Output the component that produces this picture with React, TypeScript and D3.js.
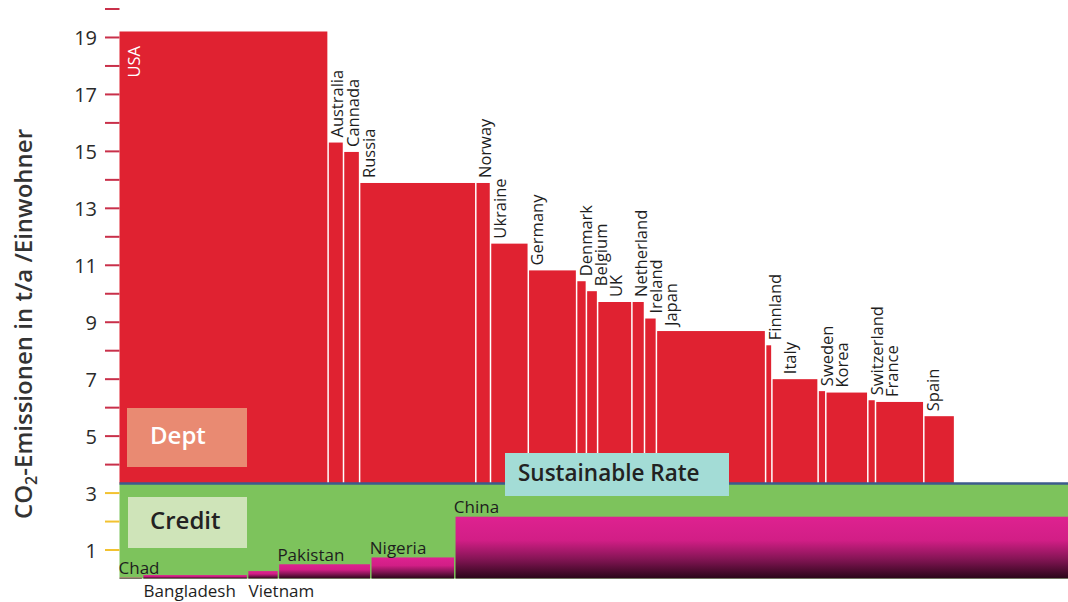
import React, { useEffect, useRef } from 'react';
import * as d3 from 'd3';

// countries above the sustainable rate (bar width = population, height = t CO2 per head)
const DEBT_COUNTRIES = ['USA', 'Australia', 'Cannada', 'Russia', 'Norway', 'Ukraine', 'Germany', 'Denmark', 'Belgium', 'UK', 'Netherland', 'Ireland', 'Japan', 'Finnland', 'Italy', 'Sweden', 'Korea', 'Switzerland', 'France', 'Spain'];
const DEBT_POPULATION = [298, 22, 23, 166, 21, 54, 69, 14, 16, 49, 18, 17, 156, 9, 66, 11, 60, 11, 69, 44];
const DEBT_EMISSIONS = [19.21, 15.31, 14.98, 13.89, 13.89, 11.76, 10.82, 10.44, 10.09, 9.71, 9.71, 9.13, 8.69, 8.19, 7.0, 6.58, 6.53, 6.26, 6.2, 5.7];

// countries below it
const CREDIT_COUNTRIES = ['Chad', 'Bangladesh', 'Vietnam', 'Pakistan', 'Nigeria', 'China'];
const CREDIT_POPULATION = [33, 150, 44, 132, 120, 1300];
const CREDIT_EMISSIONS = [0.03, 0.12, 0.26, 0.5, 0.74, 2.17];
const LABELS_BELOW = ['Bangladesh', 'Vietnam'];

const SUSTAINABLE_RATE = 3.34;
const Y_TICKS = d3.range(1, 21);
const Y_TICK_LABELS = [1, 3, 5, 7, 9, 11, 13, 15, 17, 19];

const App: React.FC = () => {
  const svgRef = useRef<SVGSVGElement>(null);

  useEffect(() => {
    if (!svgRef.current) return;
    document.body.style.margin = '0';

    const font = '"Open Sans", sans-serif';
    const svg = d3.select(svgRef.current).html('');

    const x = d3.scaleLinear().domain([0, 1400]).range([119.5, 1099.5]);
    const y = d3.scaleLinear().domain([0, 20]).range([578.5, 9]);

    const defs = svg.append('defs');
    const grad = defs.append('linearGradient').attr('id', 'creditGrad')
      .attr('x1', 0).attr('y1', 0).attr('x2', 0).attr('y2', 1);
    grad.append('stop').attr('offset', 0).attr('stop-color', '#de2290');
    grad.append('stop').attr('offset', 0.38).attr('stop-color', '#d21e86');
    grad.append('stop').attr('offset', 0.68).attr('stop-color', '#861556');
    grad.append('stop').attr('offset', 1).attr('stop-color', '#2a0518');

    let acc = 0;
    const debt = DEBT_COUNTRIES.map((name, i) => {
      const d = { name, value: DEBT_EMISSIONS[i], x0: acc, x1: acc + DEBT_POPULATION[i] };
      acc = d.x1;
      return d;
    });
    acc = 0;
    const credit = CREDIT_COUNTRIES.map((name, i) => {
      const d = { name, value: CREDIT_EMISSIONS[i], x0: acc, x1: acc + CREDIT_POPULATION[i] };
      acc = d.x1;
      return d;
    });

    const lineY = y(SUSTAINABLE_RATE);
    const right = x(credit[credit.length - 1].x1);

    // green credit band
    svg.append('rect')
      .attr('x', x(0)).attr('y', lineY)
      .attr('width', right - x(0)).attr('height', y(0) - lineY)
      .attr('fill', '#7dc35c');

    // debt bars
    svg.selectAll('.debt').data(debt).enter().append('rect')
      .attr('class', 'debt')
      .attr('x', (d, i) => x(d.x0) + (i ? 0.75 : 0))
      .attr('width', (d, i) => x(d.x1) - x(d.x0) - (i ? 1.5 : 0.75))
      .attr('y', d => y(d.value))
      .attr('height', d => lineY - y(d.value))
      .attr('fill', '#e02231');

    // credit bars
    svg.selectAll('.credit').data(credit).enter().append('rect')
      .attr('class', 'credit')
      .attr('x', (d, i) => x(d.x0) + (i ? 0.75 : 0))
      .attr('width', (d, i) => x(d.x1) - x(d.x0) - (i ? 1.5 : 0.75))
      .attr('y', d => y(d.value))
      .attr('height', d => y(0) - y(d.value))
      .attr('fill', 'url(#creditGrad)');

    // sustainable rate line
    svg.append('line')
      .attr('x1', x(0)).attr('x2', right)
      .attr('y1', lineY).attr('y2', lineY)
      .attr('stroke', '#3d5b8c').attr('stroke-width', 2.5);

    // y ticks
    Y_TICKS.forEach(v => {
      svg.append('line')
        .attr('x1', 105).attr('x2', x(0))
        .attr('y1', y(v)).attr('y2', y(v))
        .attr('stroke', v < SUSTAINABLE_RATE ? '#f2c230' : '#c9304a')
        .attr('stroke-width', 2);
    });
    Y_TICK_LABELS.forEach(v => {
      svg.append('text')
        .attr('x', 97).attr('y', y(v))
        .attr('dominant-baseline', 'central')
        .attr('text-anchor', 'end')
        .attr('font-family', font).attr('font-size', 20)
        .attr('fill', '#2a2a2a')
        .text(v);
    });

    // axis title
    const title = svg.append('text')
      .attr('transform', 'translate(32,324) rotate(-90)')
      .attr('text-anchor', 'middle')
      .attr('font-family', font).attr('font-size', 24).attr('font-weight', 600)
      .attr('fill', '#333');
    title.append('tspan').text('CO');
    title.append('tspan').attr('font-size', 16).attr('dy', 5).text('2');
    title.append('tspan').attr('dy', -5).text('-Emissionen in t/a /Einwohner');

    // debt labels, pushed right so they do not collide
    let prev = -Infinity;
    debt.forEach((d, i) => {
      if (i === 0) {
        svg.append('text')
          .attr('transform', `translate(${x(d.x0) + 20.5},${y(d.value) + 46}) rotate(-90)`)
          .attr('font-family', font).attr('font-size', 16.5)
          .attr('fill', '#fff').text(d.name);
        return;
      }
      const base = Math.max(x(d.x0) + 15, prev + 15);
      prev = base;
      const under = debt.filter(b => x(b.x1) > base - 12 && x(b.x0) < base + 1);
      const top = d3.max(under, b => b.value) ?? d.value;
      svg.append('text')
        .attr('transform', `translate(${base},${y(top) - 5}) rotate(-90)`)
        .attr('font-family', font).attr('font-size', 16.5)
        .attr('fill', '#1e1e1e').text(d.name);
    });

    // credit labels
    credit.forEach(d => {
      const below = LABELS_BELOW.includes(d.name);
      svg.append('text')
        .attr('x', below ? x(d.x0) + 1 : x(d.x0) - 1)
        .attr('y', below ? 597 : y(d.value) - 3.5)
        .attr('font-family', font).attr('font-size', 17)
        .attr('fill', '#1e1e1e').text(d.name);
    });

    // boxes
    svg.append('rect').attr('x', 127).attr('y', 408).attr('width', 120).attr('height', 59).attr('fill', '#e98a72');
    svg.append('text').attr('x', 150).attr('y', 444)
      .attr('font-family', font).attr('font-size', 24).attr('font-weight', 600)
      .attr('fill', '#fff').text('Dept');

    svg.append('rect').attr('x', 128).attr('y', 497).attr('width', 119).attr('height', 51).attr('fill', '#cfe4b9');
    svg.append('text').attr('x', 150).attr('y', 528.5)
      .attr('font-family', font).attr('font-size', 24).attr('font-weight', 600)
      .attr('fill', '#222').text('Credit');

    svg.append('rect').attr('x', 505).attr('y', 453).attr('width', 224).attr('height', 43).attr('fill', '#a3dcd6');
    svg.append('text').attr('x', 518).attr('y', 481)
      .attr('font-family', font).attr('font-size', 22.5).attr('font-weight', 600)
      .attr('fill', '#222').text('Sustainable Rate');
  }, []);

  return (
    <div style={{ position: 'absolute', left: 0, top: 0 }}>
      <svg ref={svgRef} width={1068} height={602} style={{ display: 'block', overflow: 'hidden' }}></svg>
    </div>
  );
};

export default App;
